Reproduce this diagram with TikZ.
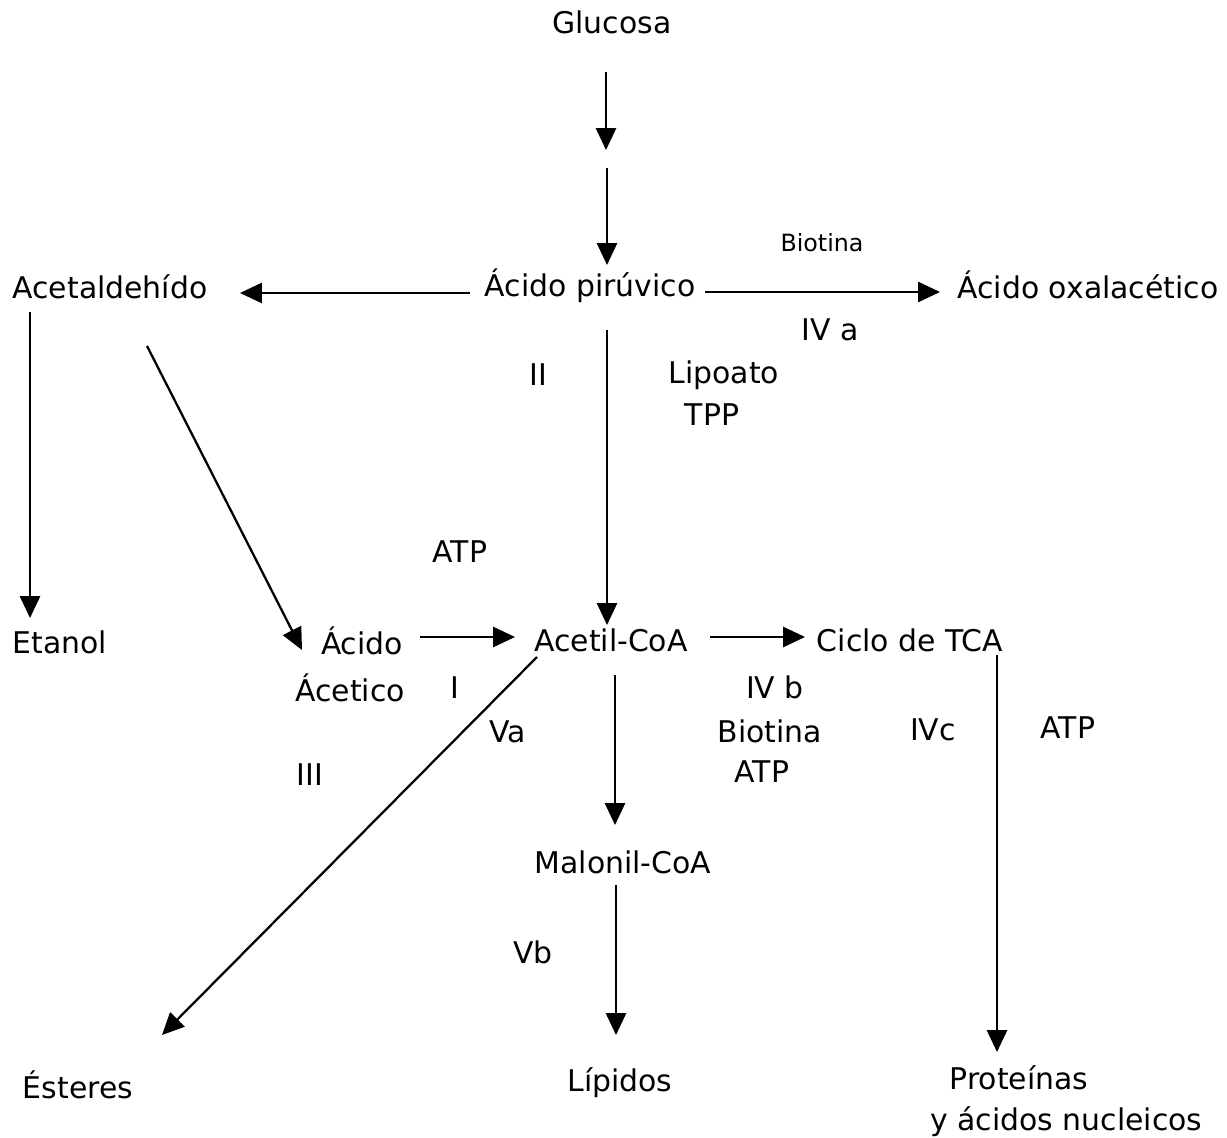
\documentclass[tikz,border=0pt]{standalone}
\usepackage{fontspec}
\setmainfont{DejaVu Sans}
\usetikzlibrary{arrows.meta,calc}
\begin{document}
\begin{tikzpicture}[x=0.02cm,y=-0.02cm,
  lbl/.style={inner sep=0pt,font=\fontsize{17}{20}\selectfont},
  small/.style={inner sep=0pt,font=\fontsize{13.5}{16}\selectfont},
  arr/.style={line width=1.3pt,-{Triangle[length=12.5pt,width=11.5pt]}}]
\useasboundingbox (0,0) rectangle (1227,1138);
% nodes
\node[lbl] (glu) at (612,22) {Glucosa};
\node[lbl] (pyr) at (590,286) {Ácido pirúvico};
\node[lbl] (ald) at (110,287) {Acetaldehído};
\node[lbl] (oxa) at (1088,285) {Ácido oxalacético};
\node[small] (bio1) at (822,243) {Biotina};
\node[lbl] (iva) at (830,330) {IV a};
\node[lbl] (ii) at (538,375) {II};
\node[lbl] (lip) at (724,375) {Lipoato};
\node[lbl] (tpp) at (712,415) {TPP};
\node[lbl] (eta) at (60,642) {Etanol};
\node[lbl] (atp1) at (460,552) {ATP};
\node[lbl] (acid) at (362,641) {Ácido};
\node[lbl] (acet) at (350,688) {Ácetico};
\node[lbl] (acoa) at (611,640) {Acetil-CoA};
\node[lbl] (tca) at (910,640) {Ciclo de TCA};
\node[lbl] (i) at (455,688) {I};
\node[lbl] (va) at (508,732) {Va};
\node[lbl] (iii) at (310,775) {III};
\node[lbl] (ivb) at (775,687) {IV b};
\node[lbl] (bio2) at (770,731) {Biotina};
\node[lbl] (atp2) at (762,772) {ATP};
\node[lbl] (ivc) at (933,730) {IVc};
\node[lbl] (atp3) at (1068,728) {ATP};
\node[lbl] (mal) at (623,862) {Malonil-CoA};
\node[lbl] (vb) at (533,952) {Vb};
\node[lbl] (est) at (78,1085) {Ésteres};
\node[lbl] (lipi) at (620,1083) {Lípidos};
\node[lbl,align=left,anchor=west] (prot) at (930,1101) {\hspace*{11pt}Proteínas\\[3pt]y ácidos nucleicos};
% mid coordinate between the two glucose arrows
\coordinate (gmid) at ($(glu.center)+(-6,128)$);
% connectors
\draw[arr] ($(glu.center)+(-6,50)$) -- (gmid);
\draw[arr] ($(gmid)+(1,18)$) -- ($(pyr.center)+(17,-21)$);
\draw[arr] ($(pyr.center)+(-120,7)$) -- ($(ald.center)+(130,6)$);
\draw[arr] ($(pyr.center)+(115,6)$) -- ($(oxa.center)+(-148,7)$);
\draw[arr] ($(ald.center)+(-80,25)$) -- ($(eta.center)+(-30,-24)$);
\draw[arr] ($(ald.center)+(37,59)$) -- ($(acid.center)+(-60,9)$);
\draw[arr] ($(pyr.center)+(17,44)$) -- ($(acoa.center)+(-4,-15)$);
\draw[arr] ($(acid.center)+(58,-4)$) -- ($(acoa.center)+(-96,-3)$);
\draw[arr] ($(acoa.center)+(99,-3)$) -- ($(tca.center)+(-105,-3)$);
\draw[arr] ($(acoa.center)+(-74,17)$) -- ($(est.center)+(84,-50)$);
\draw[arr] ($(acoa.center)+(4,35)$) -- ($(mal.center)+(-8,-37)$);
\draw[arr] ($(mal.center)+(-7,23)$) -- ($(lipi.center)+(-4,-48)$);
\draw[arr] ($(tca.center)+(87,15)$) -- ($(prot.west)+(67,-49)$);
\end{tikzpicture}
\end{document}
